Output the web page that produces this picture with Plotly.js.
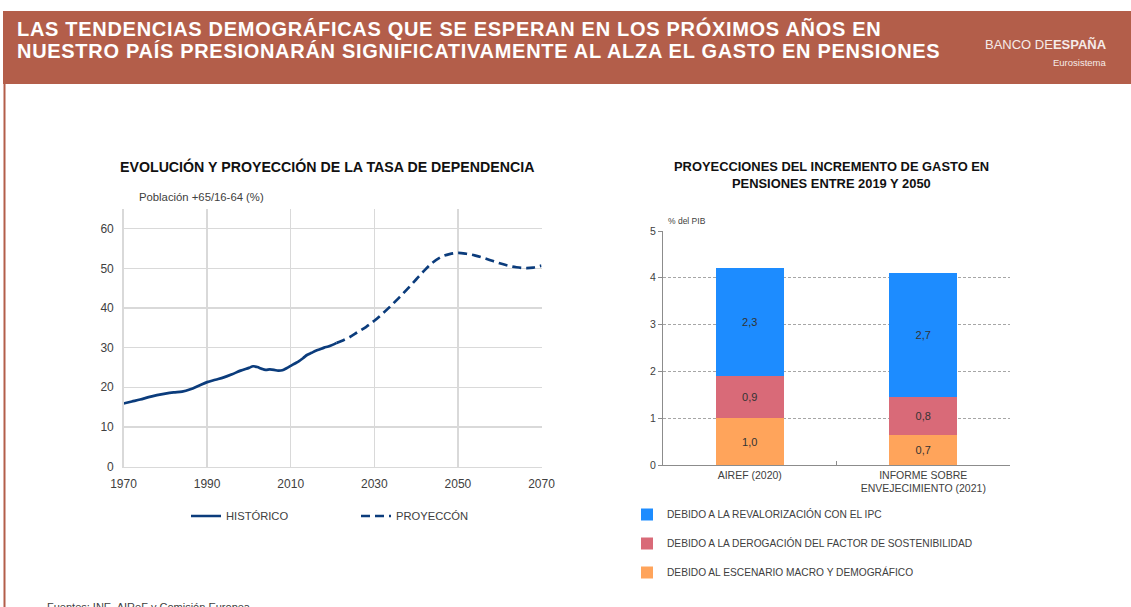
<!DOCTYPE html>
<html>
<head>
<meta charset="utf-8">
<script src="https://cdn.plot.ly/plotly-3.0.1.min.js"></script>
<style>
html,body{margin:0;padding:0;background:#fff;}
#chart{width:1131px;height:607px;}
.annotation[data-index="0"] text, .annotation[data-index="1"] text { letter-spacing: 0.7px; }
</style>
</head>
<body>
<div id="chart"></div>
<script>
// ---- Data: dependency ratio (Población +65/16-64, %) ----
const histYears = [1970,1972,1974,1976,1978,1980,1982,1984,1986,1988,1990,1992,1994,1996,1998,2000,2001,2002,2003,2004,2005,2006,2007,2008,2009,2010,2011,2012,2013,2014,2015,2016,2017,2018,2019,2020,2021];
const histValues = [15.9,16.4,16.9,17.5,18.0,18.4,18.7,18.9,19.5,20.4,21.3,21.9,22.5,23.3,24.2,24.9,25.3,25.1,24.7,24.4,24.5,24.4,24.2,24.3,24.8,25.4,26.0,26.6,27.4,28.2,28.7,29.2,29.6,30.0,30.3,30.7,31.2];
const projYears = [2021,2022,2024,2026,2028,2030,2032,2034,2036,2038,2040,2042,2044,2046,2048,2050,2052,2054,2056,2058,2060,2062,2064,2066,2068,2070];
const projValues = [31.2,31.6,32.6,33.9,35.2,36.8,38.6,40.6,42.7,44.9,47.2,49.5,51.5,52.9,53.6,53.9,53.7,53.3,52.7,52.0,51.3,50.7,50.3,50.1,50.2,50.7];
const lineNames = ["HISTÓRICO", "PROYECCÓN"];

// ---- Data: pension spending increase 2019-2050 (% del PIB) ----
const barCategories = ["AIREF (2020)", "INFORME SOBRE<br>ENVEJECIMIENTO (2021)"];
const macroValues = [1.0, 0.65];
const sostenibilidadValues = [0.9, 0.8];
const ipcValues = [2.3, 2.65];
const macroLabels = ["1,0", "0,7"];
const sostenibilidadLabels = ["0,9", "0,8"];
const ipcLabels = ["2,3", "2,7"];
const barNames = ["DEBIDO AL ESCENARIO MACRO Y DEMOGRÁFICO", "DEBIDO A LA DEROGACIÓN DEL FACTOR DE SOSTENIBILIDAD", "DEBIDO A LA REVALORIZACIÓN CON EL IPC"];

const W = 1131, H = 607;
const px = v => v / W;
const py = v => 1 - v / H;

const navy = "#0B3C7C";
const txt = "#404040";
const base = "Liberation Sans, Arial, sans-serif";

const traces = [
  {x: histYears, y: histValues, type: "scatter", mode: "lines", name: lineNames[0],
   line: {color: navy, width: 2.7, shape: "spline"}, xaxis: "x", yaxis: "y", legend: "legend"},
  {x: projYears, y: projValues, type: "scatter", mode: "lines", name: lineNames[1],
   line: {color: navy, width: 2.7, dash: "9px,5px", shape: "spline"}, xaxis: "x", yaxis: "y", legend: "legend"},
  {x: barCategories, y: macroValues, text: macroLabels, type: "bar", name: barNames[0],
   marker: {color: "#FFA45B"}, xaxis: "x2", yaxis: "y2", legend: "legend2", legendgroup: "g1", legendrank: 3},
  {x: barCategories, y: sostenibilidadValues, text: sostenibilidadLabels, type: "bar", name: barNames[1],
   marker: {color: "#D96A78"}, xaxis: "x2", yaxis: "y2", legend: "legend2", legendgroup: "g2", legendrank: 2},
  {x: barCategories, y: ipcValues, text: ipcLabels, type: "bar", name: barNames[2],
   marker: {color: "#1D8CFF"}, xaxis: "x2", yaxis: "y2", legend: "legend2", legendgroup: "g3", legendrank: 1}
];
traces.slice(2).forEach(t => {
  t.textposition = "inside";
  t.insidetextanchor = "middle";
  t.textangle = 0;
  t.constraintext = "none";
  t.textfont = {family: base, size: 11, color: "#333333"};
  t.hoverinfo = "none";
});

const layout = {
  width: W, height: H,
  margin: {l: 0, r: 0, t: 0, b: 0},
  paper_bgcolor: "#ffffff", plot_bgcolor: "rgba(0,0,0,0)",
  font: {family: base, color: txt, size: 12},
  barmode: "stack",
  bargap: 0.61,
  xaxis: {
    domain: [px(123.5), px(541.5)], range: [1970, 2070], tick0: 1970, dtick: 20,
    showgrid: true, gridcolor: "#d9d9d9", gridwidth: 1.3, zeroline: false,
    showline: true, linecolor: "#d9d9d9", linewidth: 1.3, ticks: "",
    tickfont: {size: 12, color: txt}, ticklabelstandoff: 6, anchor: "y", fixedrange: true
  },
  yaxis: {
    domain: [py(466.5), py(209)], range: [0, 65], tickvals: [0,10,20,30,40,50,60],
    showgrid: true, gridcolor: "#d9d9d9", gridwidth: 1.3, zeroline: false,
    showline: true, linecolor: "#d9d9d9", linewidth: 1.3, ticks: "",
    tickfont: {size: 12, color: txt}, ticklabelstandoff: 6, anchor: "x", fixedrange: true
  },
  xaxis2: {
    domain: [px(663), px(1010)], range: [-0.5, 1.5], type: "category",
    showgrid: false, zeroline: false, showline: true, linecolor: "#8c8c8c", linewidth: 1,
    ticks: "inside", tickson: "boundaries", ticklen: 4, tickcolor: "#8c8c8c",
    tickfont: {size: 10.5, color: txt}, anchor: "y2", fixedrange: true
  },
  yaxis2: {
    domain: [py(465), py(231)], range: [0, 5], dtick: 1,
    showgrid: true, gridcolor: "#a6a6a6", gridwidth: 1, griddash: "3px,2px", zeroline: false,
    showline: true, linecolor: "#8c8c8c", linewidth: 1,
    ticks: "outside", ticklen: 4, tickcolor: "#8c8c8c",
    tickfont: {size: 10.5, color: txt}, anchor: "x2", fixedrange: true
  },
  legend: {
    orientation: "h", x: px(186), y: py(516), xanchor: "left", yanchor: "middle",
    entrywidth: 125, entrywidthmode: "pixels",
    font: {size: 11.2, color: txt}, bgcolor: "rgba(0,0,0,0)", itemclick: false, itemdoubleclick: false
  },
  legend2: {
    orientation: "v", x: px(627), y: py(500), xanchor: "left", yanchor: "top",
    traceorder: "grouped", tracegroupgap: 10,
    font: {size: 10.2, color: txt}, bgcolor: "rgba(0,0,0,0)", itemclick: false, itemdoubleclick: false
  },
  shapes: [
    {type: "rect", xref: "paper", yref: "paper", x0: px(3), x1: 1, y0: py(84), y1: py(11),
     fillcolor: "#B35E4A", line: {width: 0}, layer: "below"},
    {type: "line", xref: "paper", yref: "paper", x0: px(4.5), x1: px(4.5), y0: 0, y1: py(84),
     line: {color: "#B35E4A", width: 2}, layer: "below"}
  ],
  annotations: [
    {text: "<b>LAS TENDENCIAS DEMOGRÁFICAS QUE SE ESPERAN EN LOS PRÓXIMOS AÑOS EN</b>",
     xref: "paper", yref: "paper", x: px(15), y: py(29), xanchor: "left", yanchor: "middle", align: "left",
     showarrow: false, font: {family: base, size: 20, color: "#ffffff"}},
    {text: "<b>NUESTRO PAÍS PRESIONARÁN SIGNIFICATIVAMENTE AL ALZA EL GASTO EN PENSIONES</b>",
     xref: "paper", yref: "paper", x: px(15), y: py(51), xanchor: "left", yanchor: "middle", align: "left",
     showarrow: false, font: {family: base, size: 20, color: "#ffffff"}},
    {text: "BANCO DE<b>ESPAÑA</b>", xref: "paper", yref: "paper", x: px(1109), y: py(45),
     xanchor: "right", yanchor: "middle", showarrow: false,
     font: {family: base, size: 13, color: "#f6ebe8"}},
    {text: "Eurosistema", xref: "paper", yref: "paper", x: px(1109), y: py(62),
     xanchor: "right", yanchor: "middle", showarrow: false,
     font: {family: base, size: 9.5, color: "#f6ebe8"}},
    {text: "<b>EVOLUCIÓN Y PROYECCIÓN DE LA TASA DE DEPENDENCIA</b>", xref: "paper", yref: "paper",
     x: px(327), y: py(167), xanchor: "center", yanchor: "middle", showarrow: false,
     font: {family: base, size: 14.2, color: "#111111"}},
    {text: "Población +65/16-64 (%)", xref: "paper", yref: "paper", x: px(137), y: py(197),
     xanchor: "left", yanchor: "middle", showarrow: false, font: {size: 11.3, color: txt}},
    {text: "<b>PROYECCIONES DEL INCREMENTO DE GASTO EN</b>", xref: "paper", yref: "paper",
     x: px(831), y: py(167), xanchor: "center", yanchor: "middle", showarrow: false,
     font: {family: base, size: 12.9, color: "#111111"}},
    {text: "<b>PENSIONES ENTRE 2019 Y 2050</b>", xref: "paper", yref: "paper",
     x: px(831), y: py(184), xanchor: "center", yanchor: "middle", showarrow: false,
     font: {family: base, size: 12.9, color: "#111111"}},
    {text: "% del PIB", xref: "paper", yref: "paper", x: px(666), y: py(221),
     xanchor: "left", yanchor: "middle", showarrow: false, font: {size: 8.5, color: txt}},
    {text: "Fuentes: INE, AIReF y Comisión Europea", xref: "paper", yref: "paper", x: px(45), y: py(599),
     xanchor: "left", yanchor: "top", showarrow: false, font: {size: 11, color: txt}}
  ]
};

Plotly.newPlot("chart", traces, layout, {displayModeBar: false, staticPlot: true});
</script>
</body>
</html>
